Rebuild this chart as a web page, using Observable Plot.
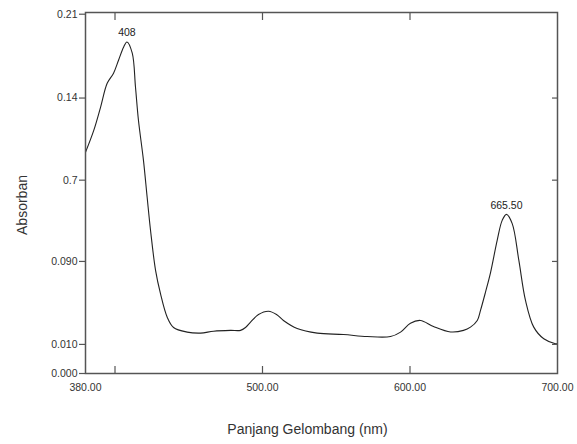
<!DOCTYPE html>
<html>
<head>
<meta charset="utf-8">
<script src="https://cdn.jsdelivr.net/npm/d3@7"></script>
<script src="https://cdn.jsdelivr.net/npm/@observablehq/plot@0.6"></script>
<style>
  html, body { margin: 0; padding: 0; background: #fff; }
  svg { display: block; }
</style>
</head>
<body>
<div id="chart"></div>
<script>
// Wavelength (nm) and absorbance readings
const wavelength = [380, 385.6, 390.2, 394.7, 399.0, 402.4, 405.8, 408.1, 411.7, 413.9, 415.9, 419.3, 421.8, 424.1, 427.5, 430.8, 435.4, 439.7, 448.9, 458.0, 466.8, 478.3, 485.1, 488.5, 491.9, 497.3, 504.1, 509.5, 514.2, 523.5, 537.1, 554.9, 571.0, 586.8, 593.6, 600.3, 607.1, 615.9, 627.5, 636.3, 641.0, 645.6, 647.8, 651.2, 654.6, 659.1, 662.5, 665.4, 669.3, 673.8, 678.3, 683.9, 690.7, 698.6, 700];
const absorbance = [0.1293, 0.1421, 0.1556, 0.1696, 0.1755, 0.1831, 0.1907, 0.1938, 0.1872, 0.1673, 0.1480, 0.1246, 0.1030, 0.0836, 0.0603, 0.0468, 0.0329, 0.0269, 0.0242, 0.0236, 0.0247, 0.0252, 0.0252, 0.0269, 0.0300, 0.0345, 0.0364, 0.0345, 0.0310, 0.0263, 0.0236, 0.0228, 0.0216, 0.0216, 0.0242, 0.0294, 0.0310, 0.0275, 0.0243, 0.0252, 0.0271, 0.0310, 0.0369, 0.0476, 0.0590, 0.0778, 0.0895, 0.0930, 0.0876, 0.0661, 0.0427, 0.0271, 0.0203, 0.0174, 0.0173];

// Axis tick positions (in absorbance units) and their printed labels
const yTickValues = [0, 0.017, 0.0655, 0.113, 0.161, 0.21];
const yTickLabels = ["0.000", "0.010", "0.090", "0.7", "0.14", "0.21"];
const xTickMarks = [400, 500, 600];
const xTickLabelValues = [380, 500, 600, 700];
const xTickLabels = ["380.00", "500.00", "600.00", "700.00"];

// Peak annotations
const peakX = [408.1, 665.4];
const peakY = [0.1938, 0.0930];
const peakLabels = ["408", "665.50"];

const data = wavelength.map((w, i) => ({w, a: absorbance[i]}));
const peaks = peakX.map((x, i) => ({x, y: peakY[i], label: peakLabels[i]}));
const yLabelMap = new Map(yTickValues.map((v, i) => [v, yTickLabels[i]]));
const xLabelMap = new Map(xTickLabelValues.map((v, i) => [v, xTickLabels[i]]));

const chart = Plot.plot({
  width: 577,
  height: 444,
  marginLeft: 85,
  marginRight: 20,
  marginTop: 12,
  marginBottom: 71,
  style: {fontFamily: "'Liberation Sans', Arial, sans-serif", fontSize: "10.5px", color: "#333"},
  x: {domain: [380, 700]},
  y: {domain: [0, 0.211]},
  marks: [
    Plot.line(data, {x: "w", y: "a", stroke: "#222", strokeWidth: 1.1, curve: "catmull-rom"}),
    Plot.axisY({ticks: yTickValues, tickSize: 6, tickPadding: 2, tickFormat: d => yLabelMap.get(d), label: null, stroke: "#555", strokeWidth: 1.2}),
    Plot.axisY({anchor: "right", ticks: yTickValues.slice(1, 5), tickSize: -6, tickFormat: () => "", label: null, stroke: "#555", strokeWidth: 1.2}),
    Plot.axisX({ticks: xTickMarks, tickSize: -7, tickFormat: () => "", label: null, stroke: "#555", strokeWidth: 1.2}),
    Plot.axisX({anchor: "top", ticks: xTickMarks, tickSize: -7, tickFormat: () => "", label: null, stroke: "#555", strokeWidth: 1.2}),
    Plot.axisX({ticks: xTickLabelValues, tickSize: 0, tickPadding: 10, tickFormat: d => xLabelMap.get(d), label: null}),
    Plot.frame({stroke: "#555", strokeWidth: 1.5}),
    Plot.text(peaks, {x: "x", y: "y", text: "label", dy: -9, fill: "#222", fontSize: 10.5}),
    Plot.text(["Absorban"], {frameAnchor: "left", textAnchor: "middle", dx: -63, dy: 12, rotate: -90, fontSize: 14, fill: "#333"}),
    Plot.text(["Panjang Gelombang (nm)"], {frameAnchor: "bottom", textAnchor: "middle", dx: -14, dy: 60, fontSize: 14, fill: "#333"})
  ]
});
document.getElementById("chart").appendChild(chart);
</script>
</body>
</html>
